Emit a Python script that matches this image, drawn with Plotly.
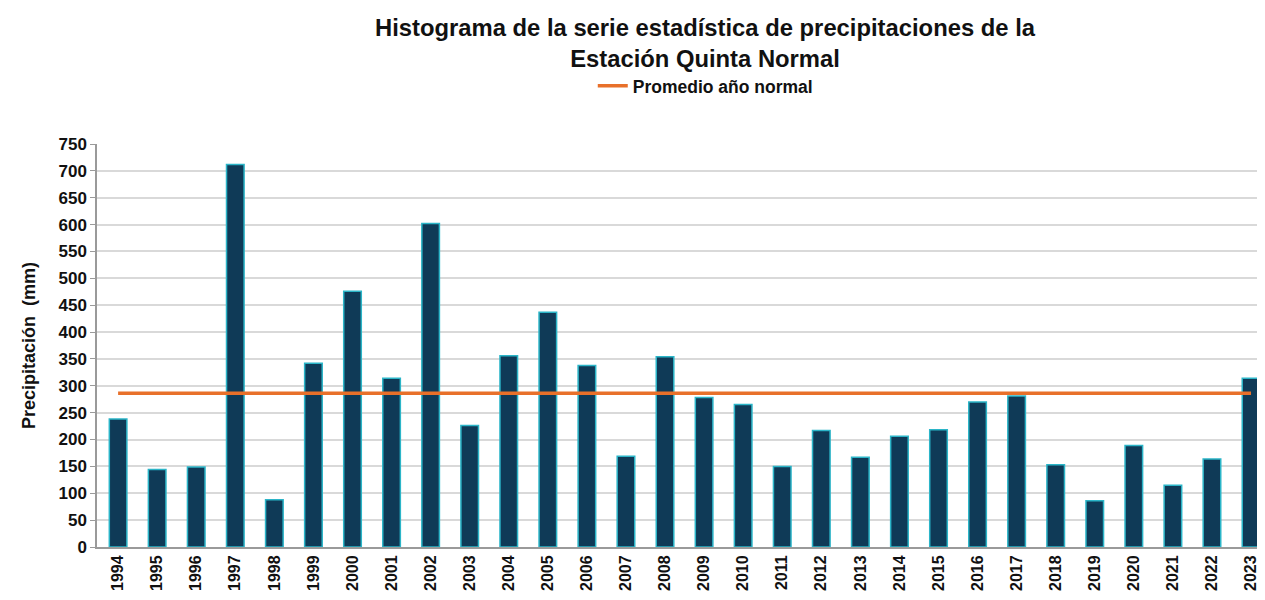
import plotly.graph_objects as go

years = [str(y) for y in range(1994, 2024)]
precip = [238, 144, 149, 712, 88, 342, 476, 314, 602, 226,
          356, 437, 338, 169, 354, 278, 265, 150, 217, 167,
          206, 218, 270, 281, 153, 86, 189, 115, 164, 314]
promedio = 286
promedio_line = [promedio] * len(years)

FONT = "Liberation Sans, Arial, sans-serif"

fig = go.Figure()
fig.add_trace(go.Bar(
    x=years, y=precip, name="Precipitación",
    marker=dict(color="#0f3a57", line=dict(color="#2bb5c8", width=1.5)),
    showlegend=False,
))
fig.add_trace(go.Scatter(
    x=years, y=promedio_line, mode="lines", name="Promedio año normal",
    line=dict(color="#e8702a", width=3.5),
))

fig.update_layout(
    width=1265, height=600,
    paper_bgcolor="white", plot_bgcolor="white",
    margin=dict(l=89, r=4, t=136, b=61),
    bargap=0.55,
    font=dict(family=FONT, color="#111111"),
    title=dict(
        text="<b>Histograma de la serie estadística de precipitaciones de la<br>Estación Quinta Normal</b>",
        x=0.551, xanchor="center", y=0.953, yanchor="top",
        font=dict(size=23.8, family=FONT, color="#111111"),
        automargin=False,
    ),
    legend=dict(
        orientation="h", x=0.519, xanchor="center", y=1.144, yanchor="middle",
        font=dict(size=17.5, family=FONT, color="#111111", weight="bold"),
        itemwidth=30,
    ),
    xaxis=dict(
        type="category", range=[-0.54, 29.46], automargin=False,
        tickangle=-90, tickfont=dict(size=16, family=FONT, weight="bold"),
        showline=True, linecolor="#9a9a9a", linewidth=2,
        showgrid=False, ticks="",
    ),
    yaxis=dict(
        range=[0, 750], dtick=50, automargin=False,
        tickfont=dict(size=17, family=FONT, weight="bold"),
        showline=True, linecolor="#9a9a9a", linewidth=1.5,
        ticks="outside", ticklen=5, tickcolor="#9a9a9a",
        gridcolor="#d9d9d9", gridwidth=1.5,
        title=dict(text="Precipitación  (mm)", font=dict(size=18, family=FONT, weight="bold"), standoff=18),
        zeroline=False,
    ),
)

fig.write_html("out.html")
